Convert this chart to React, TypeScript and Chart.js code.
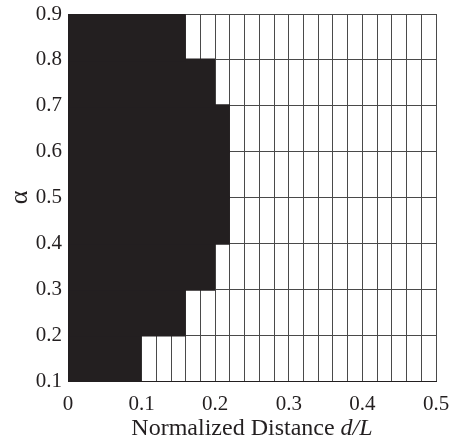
import React, { useEffect, useRef } from "react";
import { Chart, registerables } from "chart.js";

Chart.register(...registerables);

// Rows of alpha (cell centres) and the normalized distance up to which the cell is black
const alphaRows = [0.15, 0.25, 0.35, 0.45, 0.55, 0.65, 0.75, 0.85];
const blackExtent = [0.1, 0.16, 0.2, 0.22, 0.22, 0.22, 0.2, 0.16];
const xTickLabels = ["0", "0.1", "0.2", "0.3", "0.4", "0.5"];
const yTickLabels = ["0.1", "0.2", "0.3", "0.4", "0.5", "0.6", "0.7", "0.8", "0.9"];

const FONT = '"Liberation Serif", "DejaVu Serif", serif';

const titlePlugin = {
  id: "customTitles",
  afterDraw(chart: any) {
    const { ctx, chartArea } = chart;
    ctx.save();
    ctx.fillStyle = "#231f20";
    ctx.textBaseline = "middle";
    const normal = "Normalized Distance ";
    const ital = "d/L";
    ctx.font = `24px ${FONT}`;
    const w1 = ctx.measureText(normal).width;
    ctx.font = `italic 24px ${FONT}`;
    const w2 = ctx.measureText(ital).width;
    const cx = (chartArea.left + chartArea.right) / 2;
    const startX = cx - (w1 + w2) / 2;
    const y = 429;
    ctx.textAlign = "left";
    ctx.font = `24px ${FONT}`;
    ctx.fillText(normal, startX, y);
    ctx.font = `italic 24px ${FONT}`;
    ctx.fillText(ital, startX + w1, y);
    ctx.translate(20, (chartArea.top + chartArea.bottom) / 2);
    ctx.rotate(-Math.PI / 2);
    ctx.textAlign = "center";
    ctx.font = `26px ${FONT}`;
    ctx.fillText("\u03b1", 0, 0);
    ctx.restore();
  },
};

export default function App() {
  const ref = useRef<HTMLCanvasElement | null>(null);
  useEffect(() => {
    if (!ref.current) return;
    const chart = new Chart(ref.current, {
      type: "bar",
      data: {
        datasets: [
          {
            data: alphaRows.map((a, i) => ({ x: [0, blackExtent[i]], y: a })) as any,
            backgroundColor: "#231f20",
            borderWidth: 0,
            borderSkipped: false,
            categoryPercentage: 1,
            barPercentage: 1.06,
          },
        ],
      },
      options: {
        animation: false,
        responsive: true,
        maintainAspectRatio: false,
        indexAxis: "y",
        layout: { padding: { left: 0, right: 14, top: 14, bottom: 0 } },
        plugins: { legend: { display: false }, tooltip: { enabled: false } },
        scales: {
          x: {
            type: "linear",
            min: 0,
            max: 0.5,
            afterFit(scale: any) {
              scale.height = 60;
              scale.paddingLeft = 0;
              scale.paddingRight = 0;
            },
            ticks: {
              stepSize: 0.02,
              autoSkip: false,
              maxRotation: 0,
              padding: 11,
              color: "#231f20",
              font: { family: FONT, size: 21 },
              callback(v: any) {
                const k = Math.round(Number(v) * 10);
                if (Math.abs(Number(v) * 10 - k) < 1e-6) return xTickLabels[k];
                return "";
              },
            },
            grid: { color: "#4a4a4a", lineWidth: 1, drawTicks: false },
            border: { display: true, color: "#231f20" },
          },
          y: {
            type: "linear",
            min: 0.1,
            max: 0.9,
            offset: false,
            afterFit(scale: any) {
              scale.width = 68;
              scale.paddingTop = 0;
              scale.paddingBottom = 0;
            },
            ticks: {
              stepSize: 0.1,
              autoSkip: false,
              padding: 6,
              color: "#231f20",
              font: { family: FONT, size: 21 },
              callback(v: any) {
                const k = Math.round(Number(v) * 10) - 1;
                return yTickLabels[k] ?? "";
              },
            },
            grid: { color: "#4a4a4a", lineWidth: 1, drawTicks: false, offset: false },
            border: { display: true, color: "#231f20" },
          },
        },
      },
      plugins: [titlePlugin],
    });
    return () => chart.destroy();
  }, []);
  return (
    <div style={{ position: "fixed", left: 0, top: 0, width: 450, height: 441, background: "#fff" }}>
      <canvas ref={ref} />
    </div>
  );
}
